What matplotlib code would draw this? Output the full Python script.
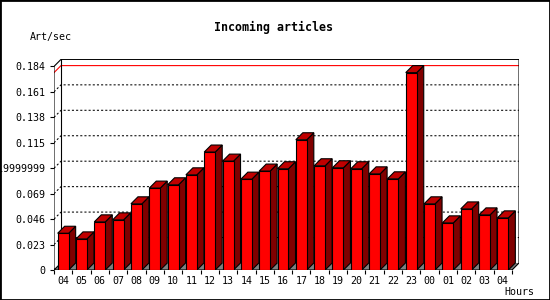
import matplotlib
matplotlib.use("Agg")
import matplotlib.pyplot as plt
from matplotlib.patches import Rectangle

# data
hours = ['04', '05', '06', '07', '08', '09', '10', '11', '12', '13', '14', '15',
		 '16', '17', '18', '19', '20', '21', '22', '23', '00', '01', '02', '03', '04']
rates = [0.0332, 0.0281, 0.0435, 0.0453, 0.0598, 0.0740, 0.0770, 0.0860, 0.1066,
		 0.0984, 0.0821, 0.0894, 0.0915, 0.1177, 0.0942, 0.0924, 0.0915, 0.0869,
		 0.0824, 0.1784, 0.0598, 0.0426, 0.0552, 0.0498, 0.0471]
ytick_values = [0, 0.023, 0.046, 0.069, 0.092, 0.115, 0.138, 0.161, 0.184]
ytick_labels = ['0', '0.023', '0.046', '0.069', '0.0919999999', '0.115',
				'0.138', '0.161', '0.184']

FONT = 'DejaVu Sans Mono'
W, H = 550, 300

# pixel geometry of the plot
x_front, y_front = 54, 270
slot_px = (512 - 54) / len(hours)
val_px = (270 - 67) / ytick_values[-1]
depth_px = 7

dx = depth_px / slot_px
dy = depth_px / val_px
ymax = ytick_values[-1]
xl, xr = -0.5, len(hours) - 0.5

fig = plt.figure(figsize=(W / 100, H / 100), dpi=100)
ax = fig.add_axes([x_front / W, (H - y_front) / H,
				   (xr - xl + dx) * slot_px / W, (ymax + dy) * val_px / H + 0.002])
ax.set_xlim(xl, xr + dx)
ax.set_ylim(0, ymax + dy)
ax.patch.set_alpha(0)
for s in ax.spines.values():
	s.set_visible(False)

# floor
ax.fill([xl, xr, xr + dx, xl + dx], [0, 0, dy, dy], color='#808080', lw=0, zorder=1)

# grid on left wall + back wall
for t in ytick_values[1:-1]:
	ax.plot([xl, xl + dx, xr + dx], [t, t + dy, t + dy], color='black', lw=0.75,
			ls=(0, (2, 2)), zorder=2)

# max line
mx = max(rates)
ax.plot([xl, xl + dx, xr + dx], [mx, mx + dy, mx + dy], color='red', lw=0.8, zorder=2)

# frame of the box
lw = 0.8
ax.plot([xl, xl, xl + dx, xr + dx, xr + dx, xr, xl, xl + dx],
		[0, ymax, ymax + dy, ymax + dy, dy, 0, 0, dy], color='black', lw=lw, zorder=2,
		solid_joinstyle='miter')
ax.plot([xl + dx, xl + dx], [dy, ymax + dy], color='black', lw=lw, zorder=2)

# 3d bars
bw = 0.6
ax.bar(range(len(rates)), rates, width=bw, color='#ff0000', edgecolor='black',
	   linewidth=lw, zorder=4)
for i, v in enumerate(rates):
	l, r = i - bw / 2, i + bw / 2
	ax.fill([r, r + dx, r + dx, r], [0, dy, v + dy, v], facecolor='#800000',
			edgecolor='black', lw=lw, zorder=3)
	ax.fill([l, l + dx, r + dx, r], [v, v + dy, v + dy, v], facecolor='#c00000',
			edgecolor='black', lw=lw, zorder=3)

# ticks
ax.set_yticks(ytick_values)
ax.set_yticklabels(ytick_labels, fontfamily=FONT, fontsize=7.2)
ax.tick_params(axis='y', length=3, width=lw, pad=3.5)
ax.set_xticks([i - 0.5 for i in range(len(hours) + 1)])
ax.set_xticklabels([])
ax.set_xticks(range(len(hours)), minor=True)
ax.set_xticklabels(hours, minor=True, fontfamily=FONT, fontsize=7.2)
ax.tick_params(axis='x', which='major', length=3, width=lw)
ax.tick_params(axis='x', which='minor', length=0, pad=4)

# texts
fig.text(274 / W, 1 - 27 / H, 'Incoming articles', ha='center', va='center',
		 fontfamily=FONT, fontweight='bold', fontsize=8.4)
fig.text(30 / W, 1 - 37 / H, 'Art/sec', ha='left', va='center',
		 fontfamily=FONT, fontsize=7.2)
fig.text(504 / W, 1 - 292 / H, 'Hours', ha='left', va='center',
		 fontfamily=FONT, fontsize=7.2)

# outer border
fig.patches.append(Rectangle((0, 0), 1, 1, transform=fig.transFigure, fill=False,
							 edgecolor='black', lw=2))

fig.savefig('out.png', dpi=100)
